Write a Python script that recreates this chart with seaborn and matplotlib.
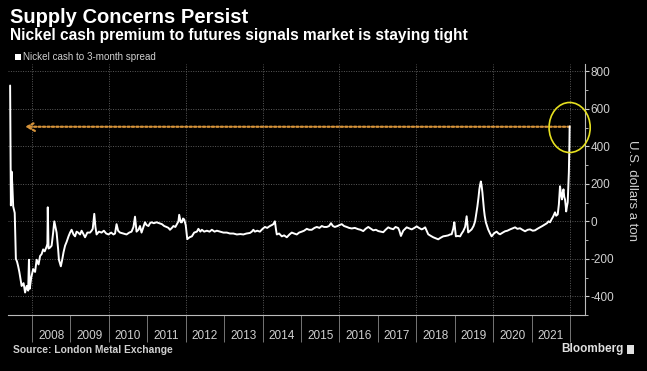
import matplotlib
matplotlib.use('Agg')
import matplotlib.pyplot as plt
from matplotlib.patches import Ellipse, Rectangle
from matplotlib.ticker import MultipleLocator
import pandas as pd
import seaborn as sns


# ============================================================
# DATA (fractional years)
# ============================================================
years = [
    2007.43, 2007.45, 2007.47, 2007.49, 2007.51, 2007.55, 2007.58, 2007.61, 2007.64, 2007.67,
    2007.69, 2007.73, 2007.78, 2007.82, 2007.86, 2007.90, 2007.92, 2007.94, 2007.98, 2008.03,
    2008.08, 2008.12, 2008.17, 2008.21, 2008.25, 2008.29, 2008.33, 2008.38, 2008.40, 2008.41,
    2008.43, 2008.47, 2008.51, 2008.55, 2008.58, 2008.61, 2008.64, 2008.68, 2008.70, 2008.75,
    2008.79, 2008.82, 2008.86, 2008.90, 2008.95, 2008.99, 2009.03, 2009.08, 2009.12, 2009.16,
    2009.20, 2009.25, 2009.29, 2009.33, 2009.38, 2009.44, 2009.51, 2009.55, 2009.58, 2009.62,
    2009.65, 2009.68, 2009.74, 2009.81, 2009.87, 2009.93, 2009.99, 2010.06, 2010.12, 2010.16,
    2010.20, 2010.24, 2010.29, 2010.38, 2010.46, 2010.53, 2010.59, 2010.64, 2010.68, 2010.72,
    2010.77, 2010.81, 2010.85, 2010.90, 2010.94, 2010.98, 2011.03, 2011.07, 2011.11, 2011.17,
    2011.24, 2011.31, 2011.38, 2011.44, 2011.50, 2011.55, 2011.59, 2011.64, 2011.68, 2011.73,
    2011.77, 2011.81, 2011.83, 2011.87, 2011.90, 2011.93, 2011.96, 2012.00, 2012.04, 2012.10,
    2012.16, 2012.22, 2012.29, 2012.33, 2012.38, 2012.42, 2012.48, 2012.55, 2012.62, 2012.68,
    2012.75, 2012.81, 2012.90, 2012.98, 2013.07, 2013.15, 2013.24, 2013.33, 2013.42, 2013.50,
    2013.58, 2013.67, 2013.72, 2013.76, 2013.80, 2013.86, 2013.93, 2014.00, 2014.06, 2014.12,
    2014.19, 2014.24, 2014.28, 2014.32, 2014.35, 2014.37, 2014.43, 2014.50, 2014.56, 2014.63,
    2014.70, 2014.76, 2014.82, 2014.89, 2014.95, 2015.02, 2015.08, 2015.15, 2015.21, 2015.28,
    2015.35, 2015.41, 2015.48, 2015.54, 2015.60, 2015.67, 2015.73, 2015.78, 2015.83, 2015.88,
    2015.95, 2016.00, 2016.06, 2016.12, 2016.19, 2016.25, 2016.32, 2016.40, 2016.49, 2016.55,
    2016.62, 2016.68, 2016.75, 2016.82, 2016.88, 2016.95, 2017.01, 2017.08, 2017.14, 2017.20,
    2017.27, 2017.33, 2017.40, 2017.46, 2017.53, 2017.56, 2017.60, 2017.66, 2017.75, 2017.82,
    2017.88, 2017.95, 2018.01, 2018.07, 2018.14, 2018.19, 2018.23, 2018.27, 2018.31, 2018.38,
    2018.44, 2018.50, 2018.57, 2018.63, 2018.70, 2018.76, 2018.83, 2018.88, 2018.92, 2018.96,
    2018.99, 2019.03, 2019.08, 2019.14, 2019.18, 2019.22, 2019.27, 2019.31, 2019.35, 2019.40,
    2019.44, 2019.49, 2019.53, 2019.56, 2019.59, 2019.62, 2019.64, 2019.66, 2019.68, 2019.70,
    2019.72, 2019.74, 2019.76, 2019.78, 2019.81, 2019.84, 2019.87, 2019.92, 2019.96, 2020.02,
    2020.05, 2020.09, 2020.14, 2020.18, 2020.25, 2020.31, 2020.37, 2020.44, 2020.50, 2020.57,
    2020.63, 2020.70, 2020.76, 2020.83, 2020.90, 2020.96, 2021.03, 2021.09, 2021.15, 2021.22,
    2021.28, 2021.35, 2021.40, 2021.44, 2021.48, 2021.52, 2021.56, 2021.61, 2021.64, 2021.68,
    2021.71, 2021.74, 2021.77, 2021.79, 2021.81, 2021.83, 2021.85, 2021.87, 2021.89, 2021.90,
    2021.92, 2021.94, 2021.97, 2021.985, 2021.99,
]
spread = [
    725, 85, 265, 180, 80, 45, -200, -215, -240, -270,
    -295, -345, -330, -380, -345, -370, -205, -360, -300, -255,
    -270, -205, -230, -185, -175, -150, -160, -135, -120, 75,
    -145, -140, -130, -60, 0, -30, -60, -150, -205, -240,
    -200, -165, -130, -110, -80, -60, -45, -70, -80, -55,
    -60, -70, -50, -65, -85, -60, -60, -50, -40, 40,
    -30, -70, -55, -60, -50, -65, -70, -60, -70, -65,
    -15, -50, -60, -65, -70, -60, -55, -30, 25, -55,
    -45, -25, -60, -30, -5, -20, -25, -10, -5, -10,
    -5, -10, -15, -25, -30, -35, -45, -35, -25, -30,
    -15, 0, 35, -5, -5, 15, 10, -20, -95, -85,
    -80, -60, -55, -40, -55, -45, -55, -50, -55, -45,
    -55, -50, -55, -60, -60, -65, -65, -70, -68, -70,
    -65, -62, -55, -45, -55, -50, -55, -40, -30, -35,
    -25, -20, -15, 0, -45, -70, -65, -80, -75, -85,
    -70, -60, -65, -70, -60, -55, -50, -40, -45, -45,
    -35, -30, -35, -25, -30, -30, -25, -10, -25, -30,
    -25, -20, -15, -25, -30, -35, -38, -35, -42, -45,
    -52, -40, -30, -40, -48, -45, -52, -55, -58, -45,
    -32, -38, -42, -30, -36, -50, -78, -50, -32, -38,
    -43, -35, -27, -35, -43, -38, -32, -50, -69, -78,
    -85, -90, -96, -88, -80, -78, -75, -70, -69, -40,
    -5, -80, -78, -80, -65, -53, -30, 27, -59, -50,
    -43, -25, 0, 40, 80, 130, 170, 195, 213, 190,
    155, 110, 64, 30, -5, -25, -43, -65, -80, -65,
    -60, -55, -65, -69, -60, -53, -50, -43, -38, -32,
    -40, -37, -45, -53, -45, -43, -50, -48, -40, -32,
    -25, -16, -10, 0, -5, 11, 25, 48, 30, 37,
    90, 187, 140, 117, 150, 171, 130, 117, 80, 53,
    80, 101, 261, 420, 507,
]
year_labels = list(range(2008, 2022))
y_ticks = [-400, -200, 0, 200, 400, 600, 800]
peak_level = 505

FG = '#d0d0d0'
GRID = '#5a5a5a'
W, H = 647, 371


def fx(px):
    return px / W


def fy(py):
    return 1 - py / H


# ============================================================
# PLOT
# ============================================================
sns.set_theme(style='dark')
plt.rcParams['font.family'] = ['Liberation Sans', 'DejaVu Sans']

fig = plt.figure(figsize=(6.47, 3.71), dpi=100, facecolor='black')
ax = fig.add_axes([fx(8), fy(315), fx(585 - 8), (315 - 64) / H])
ax.set_facecolor('black')

df = pd.DataFrame({'year': years, 'spread': spread})
sns.lineplot(data=df, x='year', y='spread', ax=ax, color='white', lw=1.4, zorder=3)

ax.set_xlim(2007.375, 2022.39)
ax.set_ylim(-500, 840)

# y axis on the right
ax.yaxis.tick_right()
ax.set_yticks(y_ticks)
ax.set_yticklabels([str(v) for v in y_ticks])
ax.yaxis.set_minor_locator(MultipleLocator(100))
ax.tick_params(axis='y', which='major', direction='out', length=3, width=0.8,
               color=FG, labelcolor=FG, labelsize=8.5, pad=1, right=True, left=False)
ax.tick_params(axis='y', which='minor', direction='out', length=2, width=0.6,
               color=FG, right=True, left=False)

# x axis: long separators at year boundaries, labels centred in each year
ax.set_xticks(year_labels + [2022])
ax.set_xticklabels([])
ax.set_xticks([y + 0.5 for y in year_labels], minor=True)
ax.set_xticklabels([str(y) for y in year_labels], minor=True)
ax.tick_params(axis='x', which='major', direction='out', length=19.5, width=0.6,
               color='#888888', bottom=True)
ax.tick_params(axis='x', which='minor', length=0, pad=11, labelsize=8.5, labelcolor=FG)

ax.set_xlabel('')
ax.set_ylabel('')

# grid
ax.grid(False)
ax.grid(axis='y', which='major', color=GRID, ls=(0, (1, 1.5)), lw=0.7)
for yr in range(2008, 2023, 2):
    ax.axvline(yr, color=GRID, ls=(0, (1, 1.5)), lw=0.7, zorder=1)

for side in ['left', 'top']:
    ax.spines[side].set_visible(False)
for side in ['right', 'bottom']:
    ax.spines[side].set_visible(True)
    ax.spines[side].set_color('#bbbbbb')
    ax.spines[side].set_linewidth(0.8)

# annotations: dotted arrow back to the 2007 level, circle round the spike
ax.annotate('', xy=(2007.82, peak_level), xytext=(years[-1], peak_level),
            arrowprops=dict(arrowstyle='->,head_length=0.45,head_width=0.25',
                            color='#d4923a', ls=(0, (1, 1)), lw=1.6,
                            shrinkA=0, shrinkB=0), zorder=2)
ax.add_patch(Ellipse((years[-1], 501), 1.07, 267, fill=False,
                     ec='#e6e020', lw=1.2, clip_on=False, zorder=4))

# text
fig.text(fx(10), fy(8), 'Supply Concerns Persist', fontsize=14.5, weight='bold',
         color='white', va='top')
fig.text(fx(10), fy(28), 'Nickel cash premium to futures signals market is staying tight',
         fontsize=11.2, weight='bold', color='white', va='top')
fig.patches.append(Rectangle((fx(15), fy(60)), fx(6), 6 / H, transform=fig.transFigure,
                             facecolor='white', edgecolor='none'))
fig.text(fx(23), fy(57), 'Nickel cash to 3-month spread', fontsize=7.1,
         color=FG, va='center')
fig.text(fx(632), fy(190), 'U.S. dollars a ton', fontsize=9.5, color=FG,
         rotation=270, ha='center', va='center')
fig.text(fx(13), fy(350), 'Source: London Metal Exchange', fontsize=7.4,
         weight='bold', color=FG, va='center')
fig.text(fx(561), fy(349), 'Bloomberg', fontsize=8.5, weight='bold',
         color='#e0e0e0', va='center')
fig.patches.append(Rectangle((fx(627), fy(354)), fx(7), 9 / H, transform=fig.transFigure,
                             facecolor='#e0e0e0', edgecolor='none'))

fig.savefig('out.png', dpi=100, facecolor='black')
plt.close(fig)
